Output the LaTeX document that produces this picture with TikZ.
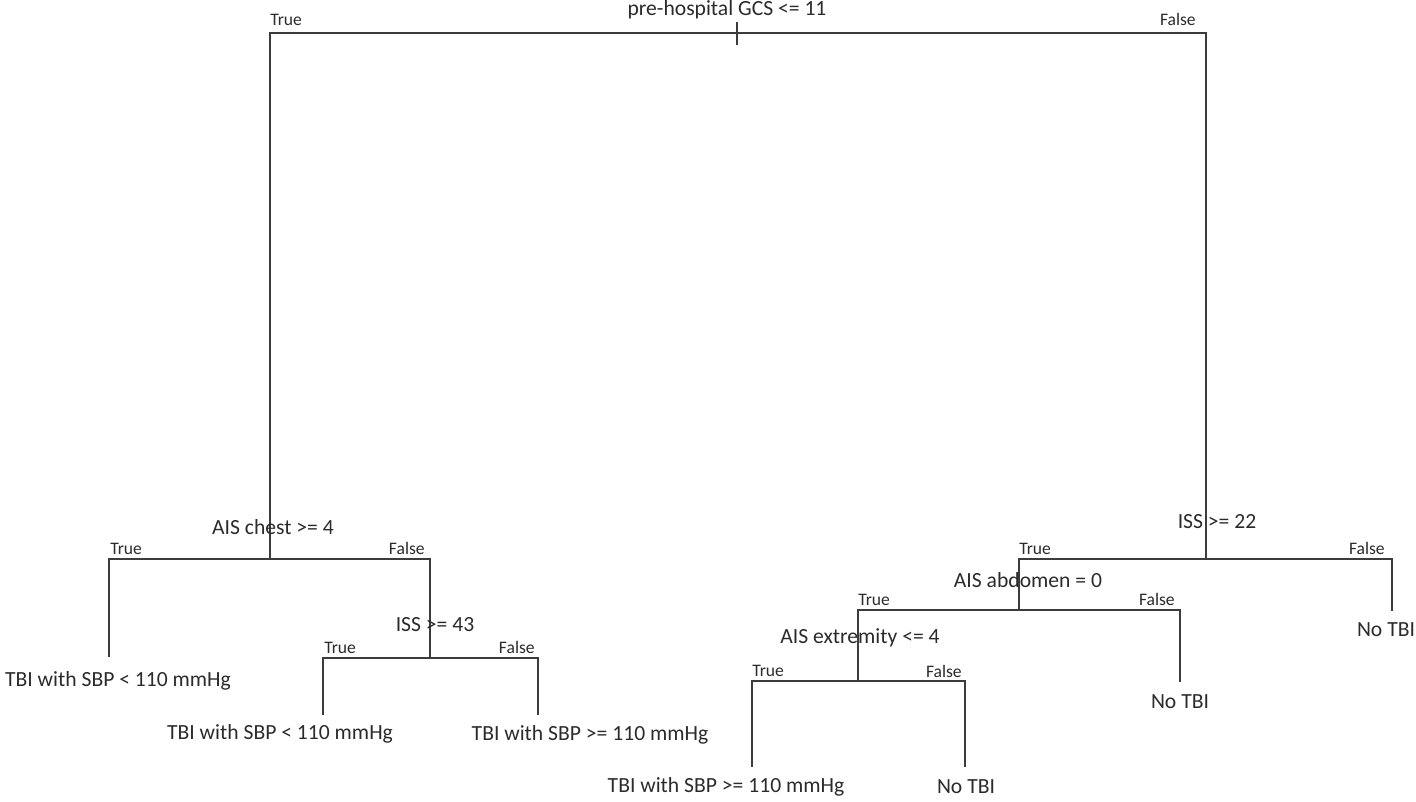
\documentclass[tikz,border=0pt]{standalone}
\usepackage{fontspec}
\setmainfont{Carlito}
\definecolor{ink}{HTML}{2B2B2B}
\definecolor{edge}{HTML}{3C3C3C}
\begin{document}
\begin{tikzpicture}[x=0.02cm,y=-0.02cm,
  cond/.style={inner sep=0pt,text=ink,font=\fontsize{12.3}{14}\selectfont},
  leaf/.style={inner sep=0pt,text=ink,font=\fontsize{12.3}{14}\selectfont},
  tlab/.style={inner sep=0pt,anchor=south west,text=ink,font=\fontsize{10}{12}\selectfont},
  flab/.style={inner sep=0pt,anchor=south east,text=ink,font=\fontsize{10}{12}\selectfont},
  branch/.style={draw=edge,line width=0.8pt}]
\useasboundingbox (0,0) rectangle (1416,801);
% coordinates
\coordinate (rT) at (737,22); \coordinate (rB) at (737,45);
\coordinate (rL) at (270,33); \coordinate (rR) at (1206,33);
\coordinate (c) at (270,559); \coordinate (cL) at (109,559); \coordinate (cR) at (430,559);
\coordinate (i43) at (430,658); \coordinate (i43L) at (323,658); \coordinate (i43R) at (538,658);
\coordinate (i22) at (1206,559); \coordinate (i22L) at (1019,559); \coordinate (i22R) at (1392,559);
\coordinate (ab) at (1019,610); \coordinate (abL) at (858,610); \coordinate (abR) at (1180,610);
\coordinate (ex) at (858,681); \coordinate (exL) at (752,681); \coordinate (exR) at (965,681);
\coordinate (l1) at (109,657); \coordinate (l2) at (323,715); \coordinate (l3) at (538,715);
\coordinate (l4) at (1392,611); \coordinate (l5) at (1180,682);
\coordinate (l6) at (752,767); \coordinate (l7) at (965,767);
% branches
\draw[branch] (rT) -- (rB);
\draw[branch] (c) -- (rL) -- (rR) -- (i22);
\draw[branch] (l1) -- (cL) -- (cR) -- (i43);
\draw[branch] (l2) -- (i43L) -- (i43R) -- (l3);
\draw[branch] (ab) -- (i22L) -- (i22R) -- (l4);
\draw[branch] (ex) -- (abL) -- (abR) -- (l5);
\draw[branch] (l6) -- (exL) -- (exR) -- (l7);
% condition labels
\node[cond] (nroot) at (727,10) {pre-hospital GCS <= 11};
\node[cond] (nchest) at (273,527) {AIS chest >= 4};
\node[cond] (niss43) at (435,625) {ISS >= 43};
\node[cond] (niss22) at (1217,522) {ISS >= 22};
\node[cond] (nabd) at (1028,580) {AIS abdomen = 0};
\node[cond] (next) at (860,638) {AIS extremity <= 4};
% true/false labels
\node[tlab] (t0) at (270,26) {True};   \node[flab] (f0) at (1196,26) {False};
\node[tlab] (t1) at (110,555) {True};  \node[flab] (f1) at (425,555) {False};
\node[tlab] (t2) at (324,654) {True};  \node[flab] (f2) at (535,654) {False};
\node[tlab] (t3) at (1019,555) {True}; \node[flab] (f3) at (1385,555) {False};
\node[tlab] (t4) at (858,606) {True};  \node[flab] (f4) at (1175,606) {False};
\node[tlab] (t5) at (752,677) {True};  \node[flab] (f5) at (962,678) {False};
% leaves
\node[leaf] (n1) at (118,681) {TBI with SBP < 110 mmHg};
\node[leaf] (n2) at (280,734) {TBI with SBP < 110 mmHg};
\node[leaf] (n3) at (590,735) {TBI with SBP >= 110 mmHg};
\node[leaf] (n4) at (1386,630) {No TBI};
\node[leaf] (n5) at (1180,702) {No TBI};
\node[leaf] (n6) at (726,787) {TBI with SBP >= 110 mmHg};
\node[leaf] (n7) at (966,787) {No TBI};
\end{tikzpicture}
\end{document}
